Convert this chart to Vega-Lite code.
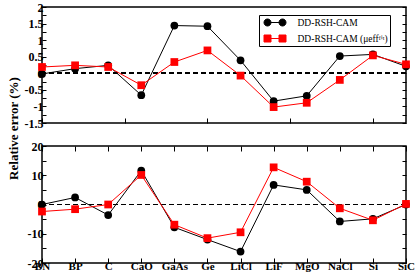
{
  "$schema": "https://vega.github.io/schema/vega-lite/v6.json",
  "padding": {"left": 6, "top": 0, "right": 3, "bottom": 3},
  "bounds": "flush",
  "spacing": 23,
  "config": {
    "view": {"stroke": "black", "strokeWidth": 1.5},
    "axis": {"domain": false, "grid": false, "tickColor": "black", "tickWidth": 1, "labelFont": "Liberation Serif", "labelFontWeight": "bold", "labelColor": "black", "titleFont": "Liberation Serif", "titleFontWeight": "bold", "titleColor": "black", "labelOverlap": false},
    "legend": {"labelFont": "Liberation Serif", "labelColor": "black"}
  },
  "datasets": {
    "d": [
      {"mat": "BN", "series": "DD-RSH-CAM", "top": -0.02, "bottom": 0.0},
      {"mat": "BP", "series": "DD-RSH-CAM", "top": 0.14, "bottom": 2.4},
      {"mat": "C", "series": "DD-RSH-CAM", "top": 0.24, "bottom": -3.6},
      {"mat": "CaO", "series": "DD-RSH-CAM", "top": -0.66, "bottom": 11.6},
      {"mat": "GaAs", "series": "DD-RSH-CAM", "top": 1.44, "bottom": -7.8},
      {"mat": "Ge", "series": "DD-RSH-CAM", "top": 1.42, "bottom": -12.0},
      {"mat": "LiCl", "series": "DD-RSH-CAM", "top": 0.39, "bottom": -16.1},
      {"mat": "LiF", "series": "DD-RSH-CAM", "top": -0.84, "bottom": 6.7},
      {"mat": "MgO", "series": "DD-RSH-CAM", "top": -0.68, "bottom": 5.0},
      {"mat": "NaCl", "series": "DD-RSH-CAM", "top": 0.52, "bottom": -5.8},
      {"mat": "Si", "series": "DD-RSH-CAM", "top": 0.57, "bottom": -4.9},
      {"mat": "SiC", "series": "DD-RSH-CAM", "top": 0.21, "bottom": 0.0},
      {"mat": "BN", "series": "DD-RSH-CAM (μeffᶠⁱᵗ)", "top": 0.19, "bottom": -2.4},
      {"mat": "BP", "series": "DD-RSH-CAM (μeffᶠⁱᵗ)", "top": 0.24, "bottom": -1.6},
      {"mat": "C", "series": "DD-RSH-CAM (μeffᶠⁱᵗ)", "top": 0.19, "bottom": 0.0},
      {"mat": "CaO", "series": "DD-RSH-CAM (μeffᶠⁱᵗ)", "top": -0.36, "bottom": 10.1},
      {"mat": "GaAs", "series": "DD-RSH-CAM (μeffᶠⁱᵗ)", "top": 0.34, "bottom": -6.9},
      {"mat": "Ge", "series": "DD-RSH-CAM (μeffᶠⁱᵗ)", "top": 0.69, "bottom": -11.5},
      {"mat": "LiCl", "series": "DD-RSH-CAM (μeffᶠⁱᵗ)", "top": -0.07, "bottom": -9.5},
      {"mat": "LiF", "series": "DD-RSH-CAM (μeffᶠⁱᵗ)", "top": -1.02, "bottom": 12.7},
      {"mat": "MgO", "series": "DD-RSH-CAM (μeffᶠⁱᵗ)", "top": -0.89, "bottom": 7.8},
      {"mat": "NaCl", "series": "DD-RSH-CAM (μeffᶠⁱᵗ)", "top": -0.2, "bottom": -1.3},
      {"mat": "Si", "series": "DD-RSH-CAM (μeffᶠⁱᵗ)", "top": 0.54, "bottom": -5.4},
      {"mat": "SiC", "series": "DD-RSH-CAM (μeffᶠⁱᵗ)", "top": 0.27, "bottom": 0.2}
    ]
  },
  "resolve": {"legend": {"color": "independent"}},
  "vconcat": [
    {
      "width": 364,
      "height": 116,
      "data": {"name": "d"},
      "resolve": {"axis": {"x": "independent", "y": "independent"}},
      "layer": [
        {
          "mark": {"type": "rule", "strokeDash": [5, 3], "color": "black", "strokeWidth": 1},
          "encoding": {"y": {"datum": 0, "type": "quantitative", "axis": null}}
        },
        {
          "mark": {"type": "line", "strokeWidth": 1},
          "encoding": {
            "x": {"field": "mat", "type": "ordinal", "sort": null, "scale": {"type": "point", "padding": 0},
                  "axis": {"orient": "bottom", "values": ["BN", "Ge", "Si"], "labels": false, "tickSize": -5, "title": null}},
            "y": {"field": "top", "type": "quantitative", "scale": {"domain": [-1.5, 2], "nice": false, "zero": false},
                  "axis": {"orient": "left", "values": [-1.5, -1.25, -1, -0.75, -0.5, -0.25, 0, 0.25, 0.5, 0.75, 1, 1.25, 1.5, 1.75, 2],
                           "labelExpr": "datum.value % 0.5 === 0 ? toString(datum.value) : ''",
                           "tickSize": -4, "labelPadding": 3, "labelFontSize": 12,
                           "title": "Relative error (%)", "titleFontSize": 13, "titleY": 121, "titleAlign": "center", "titleBaseline": "bottom", "titlePadding": 4}},
            "color": {"field": "series", "type": "nominal", "sort": null,
                      "scale": {"range": ["#000000", "#ff0000"]},
                      "legend": {"title": null, "orient": "none", "legendX": 217, "legendY": 8,
                                 "strokeColor": "black", "padding": 2, "fillColor": "white",
                                 "labelFontSize": 9.5, "symbolSize": 100, "rowPadding": 5,
                                 "symbolOffset": 8.5, "labelOffset": 17,
                                 "symbolStrokeWidth": 1,
                                 "encode": {"symbols": {"update": {
                                   "shape": {"signal": "datum.value === 'DD-RSH-CAM' ? 'M-2.2,0a0.7,0.7 0 1,0 1.4,0a0.7,0.7 0 1,0 -1.4,0ZM-1.5,0L1.5,0M0.8,0a0.7,0.7 0 1,0 1.4,0a0.7,0.7 0 1,0 -1.4,0Z' : 'M-2.2,-0.7h1.4v1.4h-1.4ZM-1.5,0L1.5,0M0.8,-0.7h1.4v1.4h-1.4Z'"},
                                   "fill": {"scale": "color", "field": "value"},
                                   "stroke": {"scale": "color", "field": "value"},
                                   "opacity": {"value": 1}
                                 }}}}}
          }
        },
        {
          "mark": {"type": "point", "filled": true, "opacity": 1, "size": 60},
          "encoding": {
            "x": {"field": "mat", "type": "ordinal", "sort": null, "scale": {"type": "point", "padding": 0},
                  "axis": {"orient": "bottom", "values": ["C", "LiF"], "tickOffset": 16.55, "labels": false, "tickSize": -5, "title": null}},
            "y": {"field": "top", "type": "quantitative", "scale": {"domain": [-1.5, 2], "nice": false, "zero": false},
                  "axis": {"orient": "right", "values": [-1.5, -1.25, -1, -0.75, -0.5, -0.25, 0, 0.25, 0.5, 0.75, 1, 1.25, 1.5, 1.75, 2],
                           "labels": false, "tickSize": -4, "title": null}},
            "color": {"field": "series", "type": "nominal", "sort": null, "scale": {"range": ["#000000", "#ff0000"]}},
            "shape": {"field": "series", "type": "nominal", "sort": null, "scale": {"range": ["circle", "square"]}, "legend": null}
          }
        }
      ]
    },
    {
      "width": 364,
      "height": 117,
      "data": {"name": "d"},
      "resolve": {"axis": {"x": "independent", "y": "independent"}},
      "layer": [
        {
          "mark": {"type": "rule", "strokeDash": [5, 3], "color": "black", "strokeWidth": 1},
          "encoding": {"y": {"datum": 0, "type": "quantitative", "axis": null}}
        },
        {
          "mark": {"type": "line", "strokeWidth": 1},
          "encoding": {
            "x": {"field": "mat", "type": "ordinal", "sort": null, "scale": {"type": "point", "padding": 0},
                  "axis": {"orient": "bottom", "labelAngle": 0, "tickSize": -5, "labelPadding": 2, "labelFontSize": 11, "title": null}},
            "y": {"field": "bottom", "type": "quantitative", "scale": {"domain": [-20, 20], "nice": false, "zero": false},
                  "axis": {"orient": "left", "values": [-20, -15, -10, -5, 0, 5, 10, 15, 20],
                           "labelExpr": "datum.value % 10 === 0 ? toString(datum.value) : ''",
                           "tickSize": -4, "labelPadding": 3, "labelFontSize": 12, "title": null}},
            "color": {"field": "series", "type": "nominal", "sort": null, "scale": {"range": ["#000000", "#ff0000"]}, "legend": null}
          }
        },
        {
          "mark": {"type": "point", "filled": true, "opacity": 1, "size": 60},
          "encoding": {
            "x": {"field": "mat", "type": "ordinal", "sort": null, "scale": {"type": "point", "padding": 0},
                  "axis": {"orient": "top", "labels": false, "tickSize": -5, "title": null}},
            "y": {"field": "bottom", "type": "quantitative", "scale": {"domain": [-20, 20], "nice": false, "zero": false},
                  "axis": {"orient": "right", "values": [-20, -15, -10, -5, 0, 5, 10, 15, 20], "labels": false, "tickSize": -4, "title": null}},
            "color": {"field": "series", "type": "nominal", "sort": null, "scale": {"range": ["#000000", "#ff0000"]}, "legend": null},
            "shape": {"field": "series", "type": "nominal", "sort": null, "scale": {"range": ["circle", "square"]}, "legend": null}
          }
        }
      ]
    }
  ]
}
